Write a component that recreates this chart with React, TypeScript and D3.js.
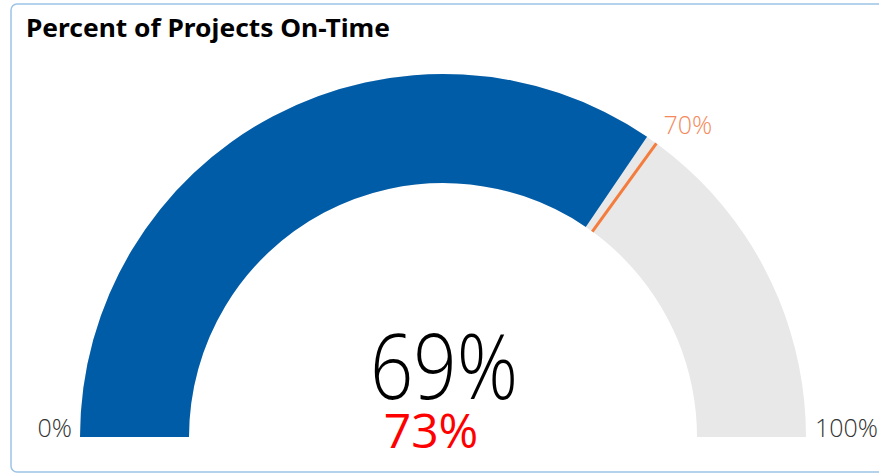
import React from "react";
import * as d3 from "d3";

const title = "Percent of Projects On-Time";
const minValue = 0;
const maxValue = 100;
const actualValue = 69;
const targetValue = 70;
const minLabel = "0%";
const maxLabel = "100%";
const targetLabel = "70%";
const actualLabel = "69%";
const secondaryLabel = "73%";

const W = 879;
const H = 475;

export default function App() {
  const cx = 443;
  const cy = 437;
  const outerR = 363;
  const innerR = 254;

  const angle = d3
    .scaleLinear()
    .domain([minValue, maxValue])
    .range([-Math.PI / 2, Math.PI / 2]);

  const arc = d3.arc<any>().innerRadius(innerR).outerRadius(outerR);
  const bgPath = arc({ startAngle: angle(minValue), endAngle: angle(maxValue) }) as string;
  const valPath = arc({ startAngle: angle(minValue), endAngle: angle(actualValue) }) as string;

  const ta = angle(targetValue);
  const tx = (r: number) => cx + r * Math.sin(ta);
  const ty = (r: number) => cy - r * Math.cos(ta);

  const lightFont = "'Open Sans', Lato, sans-serif";

  return (
    <svg
      width={W}
      height={H}
      style={{ position: "absolute", left: 0, top: 0, background: "#fff" }}
    >
      <rect x={11} y={4} width={900} height={468} rx={6} ry={6} fill="#fff" stroke="#9dc3e6" strokeWidth={1.5} />
      <text x={26} y={37} fontFamily="'Noto Sans', 'Open Sans', sans-serif" fontWeight={700} fontSize={25} fill="#000" textLength={364} lengthAdjust="spacingAndGlyphs">
        {title}
      </text>
      <g transform={`translate(${cx},${cy})`}>
        <path d={bgPath} fill="#e8e8e8" />
        <path d={valPath} fill="#015ca8" />
      </g>
      <line x1={tx(innerR)} y1={ty(innerR)} x2={tx(outerR)} y2={ty(outerR)} stroke="#f47c3c" strokeWidth={3} />
      <text x={tx(outerR + 12)} y={ty(outerR + 12)} fontFamily={lightFont} fontWeight={300} fontSize={25} fill="#f4895c">
        {targetLabel}
      </text>
      <text x={cx - outerR - 8} y={cy} textAnchor="end" fontFamily={lightFont} fontWeight={300} fontSize={25} fill="#333">
        {minLabel}
      </text>
      <text x={cx + outerR + 9} y={cy} textAnchor="start" fontFamily={lightFont} fontWeight={300} fontSize={25} fill="#333">
        {maxLabel}
      </text>
      <text x={cx + 1} y={399} textAnchor="middle" fontFamily={lightFont} fontWeight={300} fontSize={90} fill="#000" textLength={148} lengthAdjust="spacingAndGlyphs">
        {actualLabel}
      </text>
      <text x={431} y={448} textAnchor="middle" fontFamily={lightFont} fontWeight={400} fontSize={48} fill="#ff0000">
        {secondaryLabel}
      </text>
    </svg>
  );
}
